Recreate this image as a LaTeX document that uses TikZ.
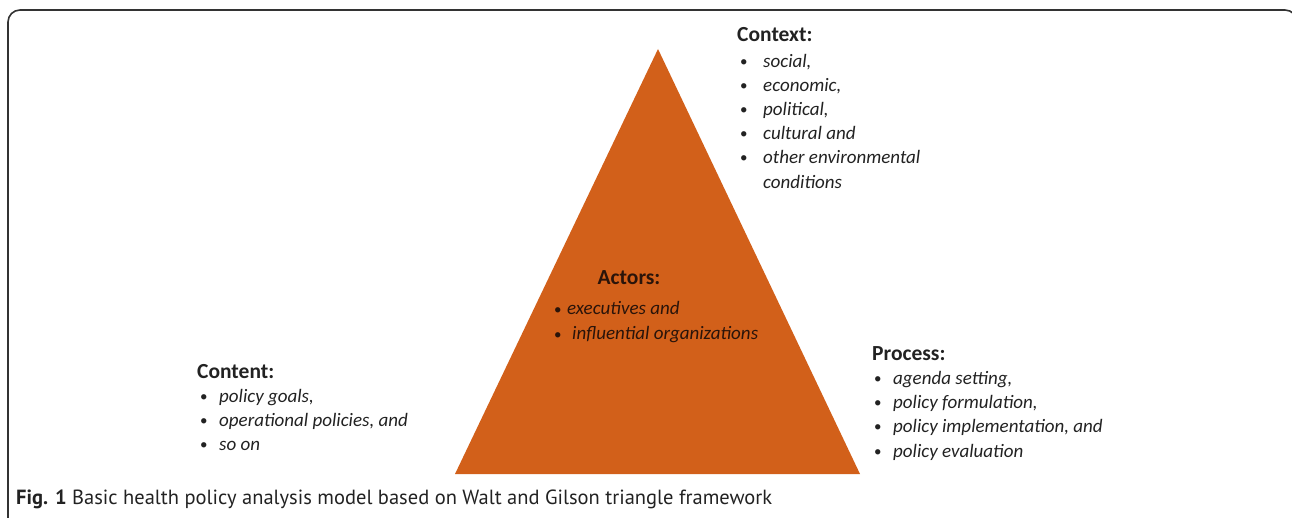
\documentclass[tikz,border=0pt]{standalone}
\usepackage{fontspec}
\setmainfont{Carlito}
\newfontfamily\capfont{PT Sans}
\definecolor{tri}{HTML}{D2601A}
\definecolor{ink}{HTML}{222222}
\definecolor{actink}{HTML}{2A140A}
\definecolor{framecol}{HTML}{333333}
\begin{document}
\begin{tikzpicture}[x=1pt,y=-1pt,
  head/.style={anchor=base west,inner sep=0pt,font=\fontsize{21.5}{24}\selectfont\bfseries,text=ink},
  item/.style={anchor=base west,inner sep=0pt,font=\fontsize{19}{22}\selectfont\itshape,text=ink},
  bul/.style={anchor=base west,inner sep=0pt,font=\fontsize{15}{20}\selectfont,text=ink},
  captext/.style={anchor=base west,inner sep=0pt,font=\capfont\fontsize{20.5}{24}\selectfont,text=ink}]
\useasboundingbox (0,0) rectangle (1292,518);
% frame
\draw[framecol,line width=1.6pt,rounded corners=12pt] (8,540) -- (8,10) -- (1297,10) -- (1297,540);
% triangle
\fill[tri] (658,49) -- (860,474) -- (455,474) -- cycle;
% Context
\node[head] (ctxh) at (737,42) {Context:};
\foreach \t [count=\i] in {{social,},{economic,},{political,},{cultural and},{other environmental}}{
  \node[bul] (ctxb\i) at (740,42+\i*24.2) {•};
  \node[item] (ctx\i) at (763,43+\i*24.2) {\t};
}
\node[item] (ctx6) at (763,188.2) {conditions};
% Actors
\node[head,text=actink,anchor=base] (acth) at (629,285) {Actors:};
\node[bul,text=actink] (actb1) at (554,315) {•};
\node[item,text=actink] (act1) at (567,315) {executives and};
\node[bul,text=actink] (actb2) at (554,339) {•};
\node[item,text=actink] (act2) at (572,339) {influential organizations};
% Content
\node[head] (conh) at (197,378) {Content:};
\foreach \t [count=\i] in {{policy goals,},{operational policies, and},{so on}}{
  \node[bul] (conb\i) at (200,377+\i*24) {•};
  \node[item] (con\i) at (219,378+\i*24) {\t};
}
% Process
\node[head] (proh) at (872,360) {Process:};
\foreach \t [count=\i] in {{agenda setting,},{policy formulation,},{policy implementation, and},{policy evaluation}}{
  \node[bul] (prob\i) at (874,359+\i*24.3) {•};
  \node[item] (pro\i) at (893,360+\i*24.3) {\t};
}
% caption
\node[captext] (caption) at (16,504) {\textbf{Fig. 1} Basic health policy analysis model based on Walt and Gilson triangle framework};
\end{tikzpicture}
\end{document}
